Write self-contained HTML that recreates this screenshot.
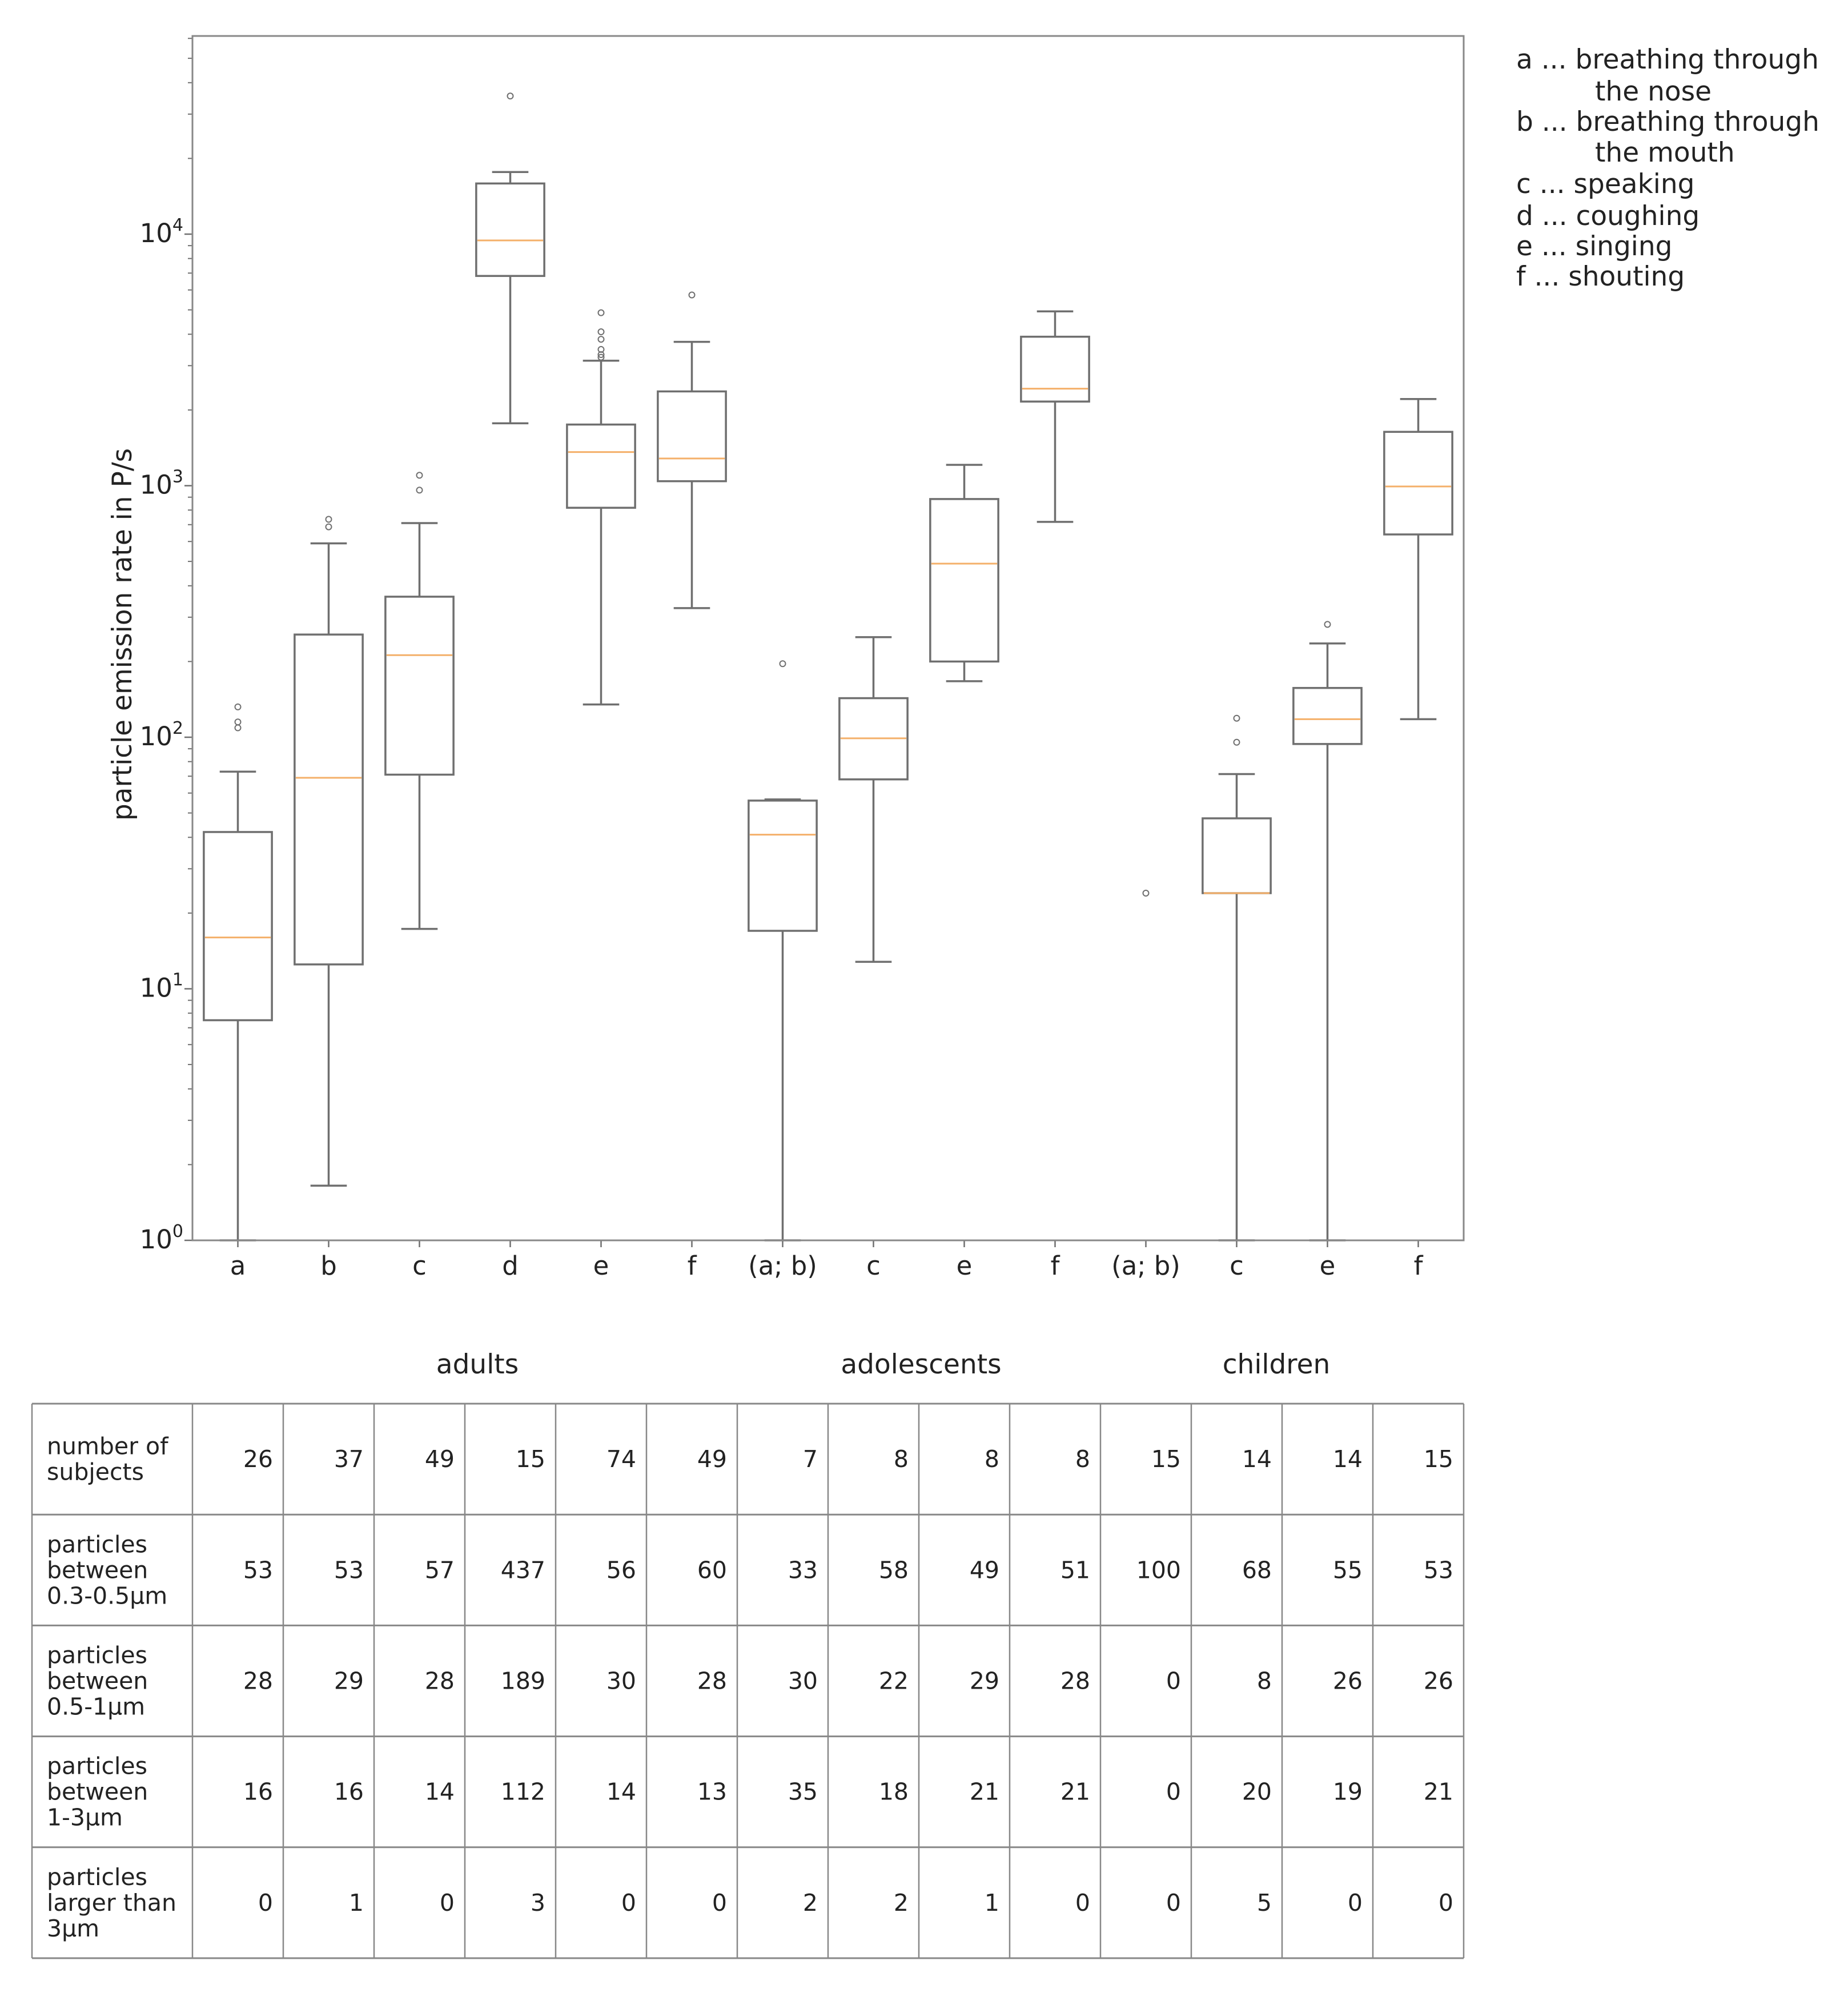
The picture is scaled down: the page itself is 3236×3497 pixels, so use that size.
<!DOCTYPE html>
<html><head><meta charset="utf-8">
<style>
html,body{margin:0;padding:0;background:#fff;}
svg text{font-family:"DejaVu Sans","Liberation Sans",sans-serif;fill:#222;}
</style></head>
<body>
<svg id="chart" xmlns="http://www.w3.org/2000/svg" width="3236" height="3492" viewBox="0 0 3236 3492">
<rect x="0" y="0" width="3236" height="3492" fill="#fff"/>
<g id="plot"></g>
<g id="legend"></g>
<g id="table"></g>
</svg>
<script>
const categories = ["a","b","c","d","e","f","(a; b)","c","e","f","(a; b)","c","e","f"];
const whiskerLow = [1, 1.65, 17.3, 1770, 135, 326, 1, 12.8, 167, 718, null, 1, 1, 118];
const q1Values   = [7.5, 12.5, 71, 6820, 817, 1042, 17, 68, 200, 2160, null, 24, 94, 640];
const medians    = [16, 69, 212, 9440, 1360, 1283, 41, 99, 490, 2430, null, 24, 118, 993];
const q3Values   = [42, 256, 362, 15900, 1750, 2370, 56, 143, 885, 3910, null, 47.6, 157, 1637];
const whiskerHigh= [73, 590, 710, 17650, 3140, 3730, 56.6, 250, 1210, 4930, null, 71.4, 236, 2210];
const fliers = [[132,115,109],[735,686],[1100,960],[35400],[4870,4090,3820,3480,3320,3240],[5730],[196],[],[],[],[24],[119,95.5],[281],[]];
const yTickExps = [0,1,2,3,4];
const legendLines = ["a ... breathing through","the nose","b ... breathing through","the mouth","c ... speaking","d ... coughing","e ... singing","f ... shouting"];
const groupLabels = ["adults","adolescents","children"];
const rowLabels = [["number of","subjects"],["particles","between","0.3-0.5\u03bcm"],["particles","between","0.5-1\u03bcm"],["particles","between","1-3\u03bcm"],["particles","larger than","3\u03bcm"]];
const rowSubjects = [26,37,49,15,74,49,7,8,8,8,15,14,14,15];
const row03to05 = [53,53,57,437,56,60,33,58,49,51,100,68,55,53];
const row05to1 = [28,29,28,189,30,28,30,22,29,28,0,8,26,26];
const row1to3 = [16,16,14,112,14,13,35,18,21,21,0,20,19,21];
const rowLarger3 = [0,1,0,3,0,0,2,2,1,0,0,5,0,0];

const NS="http://www.w3.org/2000/svg";
const L=337,R=2563,T=63,B=2172;
const yMinLog=0,yMaxLog=4+(410-63)/440.5;
const xs=i=>L+(i+0.5)*(R-L)/categories.length;
const ys=v=>B-(Math.log10(v)-yMinLog)/(yMaxLog-yMinLog)*(B-T);
const step=(R-L)/categories.length;
function mk(parent,tag,attrs,txt){const e=document.createElementNS(NS,tag);for(const k in attrs)e.setAttribute(k,attrs[k]);if(txt!==undefined)e.textContent=txt;parent.appendChild(e);return e;}
const plot=document.getElementById('plot');
const LC="#6f6f6f",LW=3.5;
for(let d=0;d<=4;d++){for(let m=2;m<=9;m++){const v=m*Math.pow(10,d);const y=ys(v);if(y<T)continue;const t=mk(plot,'line',{x1:L-8,x2:L,y1:y,y2:y,stroke:LC,'stroke-width':2});}}
yTickExps.forEach(e=>{const y=ys(Math.pow(10,e));const t=mk(plot,'line',{x1:L-14,x2:L,y1:y,y2:y,stroke:LC,'stroke-width':2.5});
const tx=mk(plot,'text',{x:L-16,y:y+14,'text-anchor':'end','font-size':45});
mk(tx,'tspan',{},'10');mk(tx,'tspan',{dy:-20,'font-size':30},String(e));});
const yl=mk(plot,'text',{x:0,y:0,transform:'translate(230,1111) rotate(-90)','text-anchor':'middle','font-size':47},'particle emission rate in P/s');

categories.forEach((c,i)=>{const x=xs(i);
const t=mk(plot,'line',{x1:x,x2:x,y1:B,y2:B+12,stroke:LC,'stroke-width':2.5});
const l=mk(plot,'text',{x:x,y:B+60,'text-anchor':'middle','font-size':45},c);
const g=mk(plot,'g',{});
if(q1Values[i]!==null){const bw=step*0.75,cw=step*0.4;
const yq1=ys(q1Values[i]),yq3=ys(q3Values[i]);
mk(g,'line',{x1:x,x2:x,y1:ys(whiskerHigh[i]),y2:yq3,stroke:LC,'stroke-width':LW});
mk(g,'line',{x1:x,x2:x,y1:yq1,y2:Math.min(B,ys(whiskerLow[i])),stroke:LC,'stroke-width':LW});
mk(g,'line',{x1:x-cw/2,x2:x+cw/2,y1:ys(whiskerHigh[i]),y2:ys(whiskerHigh[i]),stroke:LC,'stroke-width':LW});
mk(g,'line',{x1:x-cw/2,x2:x+cw/2,y1:ys(whiskerLow[i]),y2:ys(whiskerLow[i]),stroke:LC,'stroke-width':LW});
mk(g,'rect',{x:x-bw/2,y:yq3,width:bw,height:Math.max(1,yq1-yq3),fill:'none',stroke:LC,'stroke-width':LW});
mk(g,'line',{x1:x-bw/2+2,x2:x+bw/2-2,y1:ys(medians[i]),y2:ys(medians[i]),stroke:'#f4b06a','stroke-width':3});}
fliers[i].forEach(v=>{const f=mk(g,'circle',{cx:x,cy:ys(v),r:5,fill:'none',stroke:LC,'stroke-width':2});});
});
const fr=mk(plot,'rect',{x:L,y:T,width:R-L,height:B-T,fill:'none',stroke:'#888','stroke-width':3});
const lg=document.getElementById('legend');
const legY=[104,160,213,267,322,378,431,484];
legendLines.forEach((s,i)=>{const ind=s.startsWith('the');const t=mk(lg,'text',{x:ind?2793:2655,y:legY[i]+16,'font-size':47},s);});
const tb=document.getElementById('table');
const groupX=[836,1613,2235];
groupLabels.forEach((g,i)=>{const t=mk(tb,'text',{x:groupX[i],y:2405,'text-anchor':'middle','font-size':47},g);});
const rows=[rowSubjects,row03to05,row05to1,row1to3,rowLarger3];
const rowTop=2458,rh=194.2,TL=56;
for(let r=0;r<=5;r++){const y=rowTop+r*rh;const l=mk(tb,'line',{x1:TL,x2:R,y1:y,y2:y,stroke:'#888','stroke-width':3});}
const vx=[TL];for(let k=0;k<=14;k++)vx.push(L+k*step);
vx.forEach(x=>{const l=mk(tb,'line',{x1:x,x2:x,y1:rowTop,y2:rowTop+5*rh,stroke:'#888','stroke-width':2.5});});
rows.forEach((row,r)=>{const cy=rowTop+(r+0.5)*rh;
const lbl=rowLabels[r];const n=lbl.length;
const tl=mk(tb,'text',{x:82,y:0,'font-size':41});
lbl.forEach((s,j)=>{mk(tl,'tspan',{x:82,y:cy+14+(j-(n-1)/2)*45},s);});
row.forEach((v,i)=>{const t=mk(tb,'text',{x:L+(i+1)*step-18,y:cy+14,'text-anchor':'end','font-size':41},String(v));});
});
</script>
</body></html>
